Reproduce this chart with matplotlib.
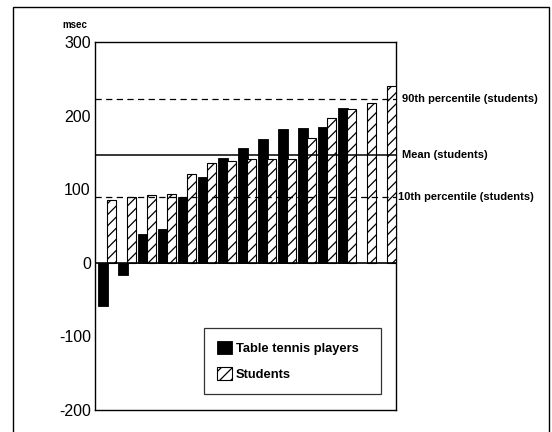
import matplotlib
matplotlib.use("Agg")
import matplotlib.pyplot as plt
from matplotlib.patches import Rectangle
import numpy as np

plt.rcParams['font.family'] = ['Liberation Sans', 'DejaVu Sans']
plt.rcParams['hatch.linewidth'] = 0.9

players = [-59, -16, 39, 46, 90, 116, 142, 156, 168, 182, 183, 184, 210]
students = [86, 90, 92, 94, 120, 135, 138, 141, 141, 141, 169, 197, 209, 217, 240]
p90 = 222
mean = 147
p10 = 89
yticks = [-200, -100, 0, 100, 200, 300]
ref_labels = ["90th percentile (students)", "Mean (students)", "10th percentile (students)"]

fig = plt.figure(figsize=(5.52, 4.32), dpi=100)
ax = fig.add_axes([95/552, 1-410/432, 301/552, 368/432])

xp = np.arange(len(players))
xs = np.arange(len(students))
ax.bar(xp, players, width=0.5, color='black', edgecolor='black', linewidth=0.6,
       label='Table tennis players', zorder=3)
ax.bar(xs + 0.41, students, width=0.46, color='white', edgecolor='black', linewidth=0.8,
       hatch='///', label='Students', zorder=3)

ax.axhline(p90, color='black', lw=0.9, ls=(0, (5, 3.5)), zorder=4)
ax.axhline(mean, color='black', lw=1.1, zorder=4)
ax.axhline(p10, color='black', lw=0.9, ls=(0, (5, 3.5)), zorder=4)
ax.axhline(0, color='black', lw=1.2, zorder=5)

ax.set_xlim(-0.42, 14.63)
ax.set_ylim(-200, 300)
ax.set_xticks([])
ax.set_yticks(yticks)
ax.set_yticklabels([str(v) for v in yticks], fontsize=11.5)
ax.tick_params(axis='y', length=0, pad=3)
for s in ax.spines.values():
    s.set_linewidth(1.0)

for val, lab, dx in zip([p90, mean, p10], ref_labels, [4.3, 4.3, 1.4]):
    ax.annotate(lab, xy=(1, val), xycoords=('axes fraction', 'data'),
                xytext=(dx, 0), textcoords='offset points', va='center', ha='left',
                fontsize=8, fontweight='bold', annotation_clip=False)

fig.text(62/552, 1-25/432, 'msec', fontsize=7, fontweight='bold', va='center', ha='left')

x0, x1 = 204/552, 381/552
y0, y1 = 1-394/432, 1-328/432
leg = ax.legend(loc='lower left', bbox_to_anchor=(x0, y0, x1-x0, y1-y0), mode='expand',
                bbox_transform=fig.transFigure, fontsize=9.3, frameon=True,
                fancybox=False, edgecolor='black', borderpad=1.0, handlelength=1.2,
                handleheight=1.15, handletextpad=0.25, labelspacing=0.95,
                borderaxespad=0)
leg.get_frame().set_linewidth(0.9)
for t in leg.get_texts():
    t.set_fontweight('bold')

fig.patches.append(Rectangle((13/552, -0.05), (549-13)/552, 1-7/432 + 0.05,
                             transform=fig.transFigure, fill=False,
                             edgecolor='black', lw=1.0))

fig.savefig('out.png', dpi=100)
